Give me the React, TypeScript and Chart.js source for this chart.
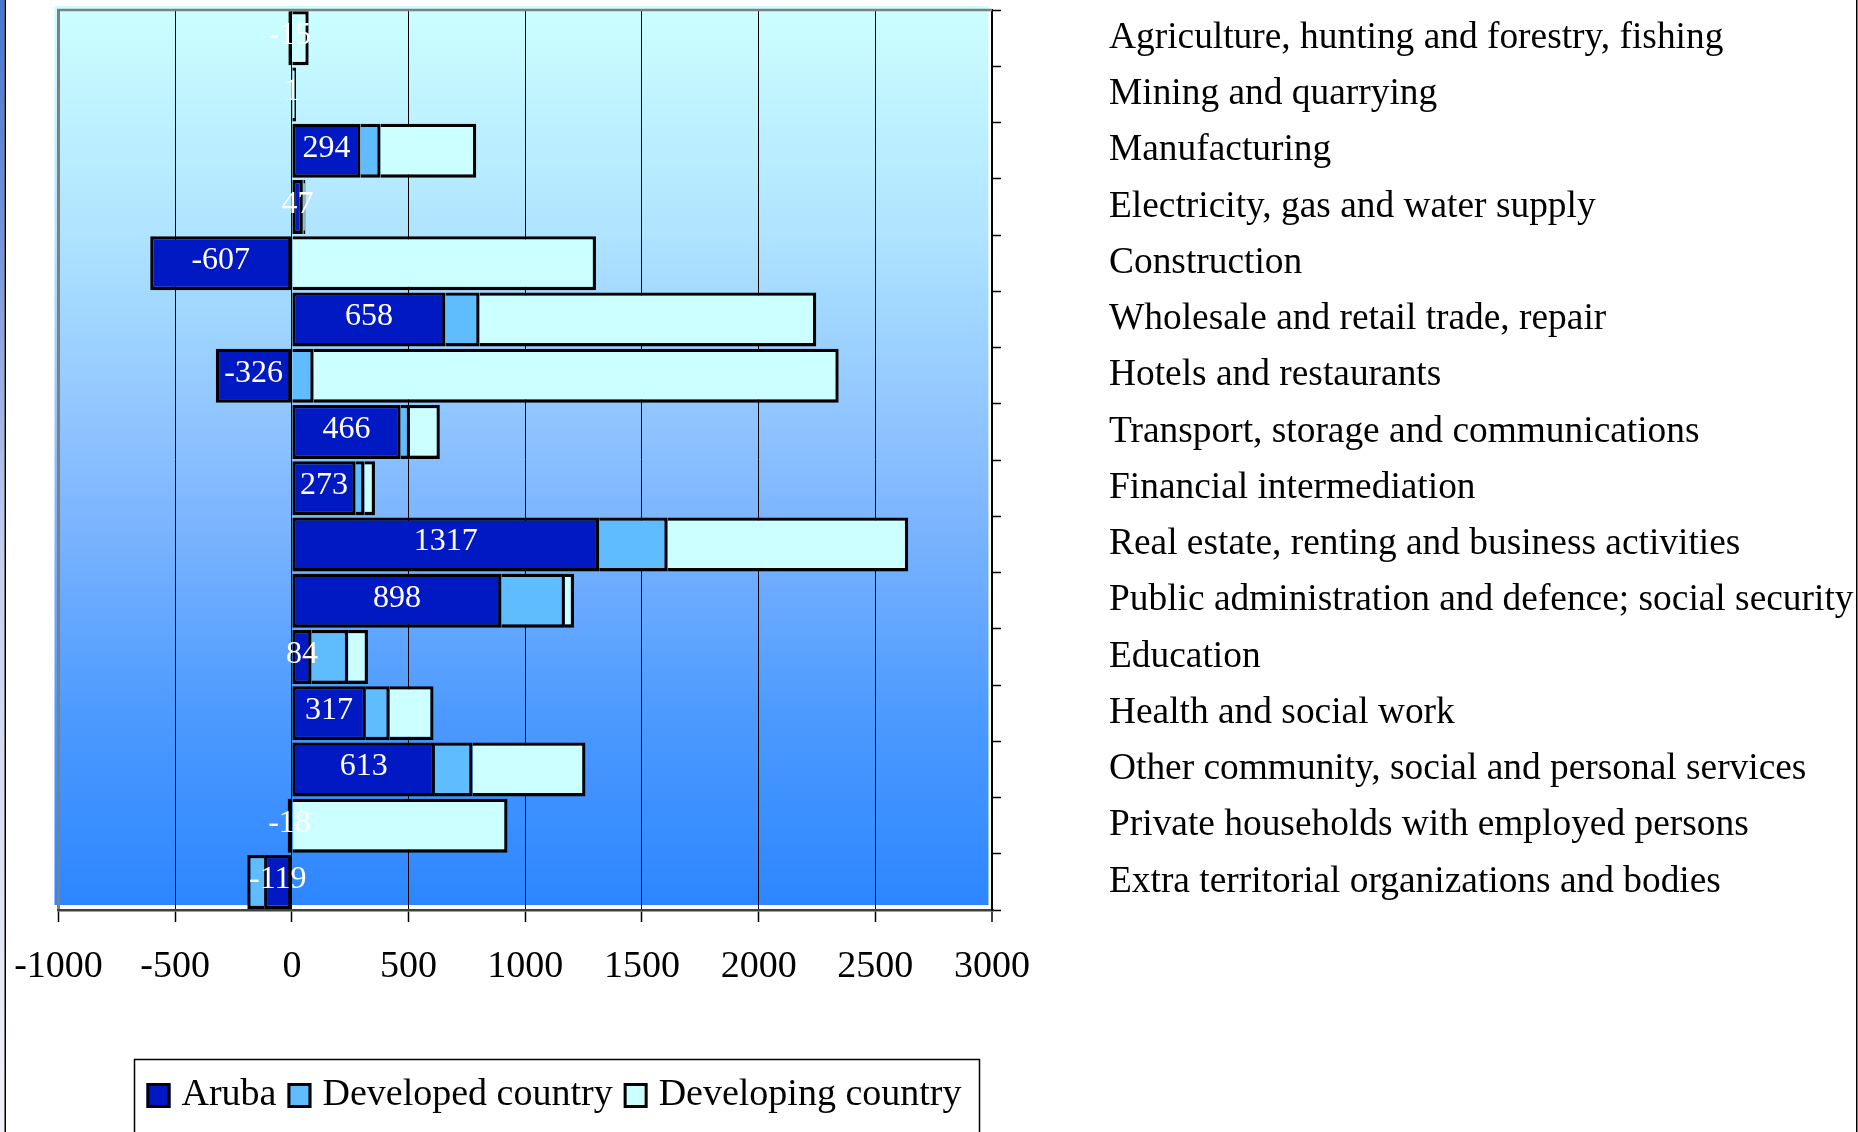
import React, { useEffect, useRef } from 'react';
import { Chart, registerables } from 'chart.js';

Chart.register(...registerables);

const categories = [
  'Agriculture, hunting and forestry, fishing',
  'Mining and quarrying',
  'Manufacturing',
  'Electricity, gas and water supply',
  'Construction',
  'Wholesale and retail trade, repair',
  'Hotels and restaurants',
  'Transport, storage and communications',
  'Financial intermediation',
  'Real estate, renting and business activities',
  'Public administration and defence; social security',
  'Education',
  'Health and social work',
  'Other community, social and personal services',
  'Private households with employed persons',
  'Extra territorial organizations and bodies',
];

const aruba = [-15, 1, 294, 47, -607, 658, -326, 466, 273, 1317, 898, 84, 317, 613, -18, -119];
const developed = [2, 2, 86, 3, 4, 146, 93, 40, 38, 293, 272, 157, 102, 161, 3, -72];
const developing = [70, 15, 410, 8, 1299, 1443, 2250, 128, 45, 1031, 39, 85, 188, 484, 921, 0];

const xTicks = [-1000, -500, 0, 500, 1000, 1500, 2000, 2500, 3000];
const seriesNames = ['Aruba', 'Developed country', 'Developing country'];
const seriesColors = ['#0019C3', '#5FBDFF', '#CCFFFF'];

const FONT = '"Liberation Serif", "Times New Roman", serif';

const backgroundPlugin = {
  id: 'plotBackground',
  beforeDraw(chart: any) {
    const { ctx, chartArea: a, height } = chart;
    ctx.save();
    const strip = ctx.createLinearGradient(0, 0, 0, height);
    strip.addColorStop(0, '#4876D0');
    strip.addColorStop(0.18, '#6E8ED8');
    strip.addColorStop(0.5, '#C8D0F0');
    strip.addColorStop(1, '#F2F2F8');
    ctx.fillStyle = strip;
    ctx.fillRect(0, 0, 4.5, height);
    ctx.fillStyle = '#000';
    ctx.fillRect(4.5, 0, 1.5, height);
    ctx.fillRect(1856, 0, 1.5, height);

    const g = ctx.createLinearGradient(0, a.top - 4, 0, a.bottom - 5);
    g.addColorStop(0, '#CCFFFF');
    g.addColorStop(0.25, '#B0E4FF');
    g.addColorStop(0.57, '#7DB5FF');
    g.addColorStop(0.78, '#4E9BFF');
    g.addColorStop(1, '#2D86FF');
    ctx.fillStyle = g;
    ctx.fillRect(a.left - 4, a.top - 4, a.width + 0.5, a.height - 1);
    ctx.restore();
  },
  beforeDatasetsDraw(chart: any) {
    const { ctx, chartArea: a } = chart;
    ctx.save();
    ctx.strokeStyle = '#808080';
    ctx.lineWidth = 2.5;
    ctx.beginPath();
    ctx.moveTo(a.left - 1.5, a.top);
    ctx.lineTo(a.right, a.top);
    ctx.stroke();
    ctx.restore();
  },
};

const arubaLabelPlugin = {
  id: 'arubaLabels',
  afterDatasetsDraw(chart: any) {
    const meta = chart.getDatasetMeta(0);
    const values = chart.data.datasets[0].data;
    const ctx = chart.ctx;
    ctx.save();
    ctx.font = `32px ${FONT}`;
    ctx.fillStyle = '#FFFFFF';
    ctx.textAlign = 'center';
    ctx.textBaseline = 'alphabetic';
    meta.data.forEach((el: any, i: number) => {
      const { x, y, base } = el.getProps(['x', 'y', 'base'], true);
      ctx.fillText(String(values[i]), (x + base) / 2, y + 6);
    });
    ctx.restore();
  },
};

const boxLegendPlugin = {
  id: 'boxLegend',
  afterDraw(chart: any) {
    const ctx = chart.ctx;
    ctx.save();
    ctx.strokeStyle = '#000';
    ctx.lineWidth = 1.5;
    ctx.strokeRect(134.5, 1059.5, 845, 120);
    ctx.font = `38px ${FONT}`;
    ctx.textBaseline = 'alphabetic';
    ctx.textAlign = 'left';
    let x = 146.5;
    chart.data.datasets.forEach((ds: any) => {
      ctx.fillStyle = ds.backgroundColor;
      ctx.fillRect(x, 1083, 24, 25);
      ctx.lineWidth = 3;
      ctx.strokeStyle = '#000';
      ctx.strokeRect(x + 1.5, 1084.5, 21, 22);
      ctx.fillStyle = '#000';
      ctx.fillText(ds.label, x + 35, 1105);
      x += 35 + ctx.measureText(ds.label).width + 11;
    });
    ctx.restore();
  },
};

export default function App() {
  const canvasRef = useRef<HTMLCanvasElement | null>(null);

  useEffect(() => {
    if (!canvasRef.current) return;
    Chart.defaults.font.family = FONT;
    const seriesData = [aruba, developed, developing];
    const chart = new Chart(canvasRef.current, {
      type: 'bar',
      data: {
        labels: categories,
        datasets: seriesNames.map((name, i) => ({
          label: name,
          data: seriesData[i],
          backgroundColor: seriesColors[i],
          borderColor: '#000000',
          borderWidth: 3.3,
          borderSkipped: i === 0 ? false : 'start',
          barPercentage: 0.96,
          categoryPercentage: 1,
        })),
      },
      options: {
        responsive: false,
        animation: false,
        indexAxis: 'y',
        layout: { padding: { left: 58.5, top: 10, right: 0, bottom: 0 } },
        plugins: {
          legend: { display: false },
          tooltip: { enabled: false },
        },
        scales: {
          x: {
            type: 'linear',
            stacked: true,
            position: 'bottom',
            min: -1000,
            max: 3000,
            afterBuildTicks: (s: any) => {
              s.ticks = xTicks.map((v) => ({ value: v }));
            },
            afterFit: (s: any) => {
              s.height = 222;
              s.paddingLeft = 0;
              s.paddingRight = 0;
            },
            grid: {
              color: (c: any) => (c.tick && c.tick.value === -1000 ? '#808080' : '#000000'),
              lineWidth: (c: any) =>
                c.tick && c.tick.value === -1000 ? 3 : c.tick && c.tick.value === 3000 ? 2 : 1,
              tickLength: 12,
              tickColor: '#000000',
              tickWidth: 1.5,
            },
            border: { display: true, color: '#404040', width: 2.5 },
            ticks: {
              color: '#000000',
              font: { family: FONT, size: 38 },
              padding: 22,
              maxRotation: 0,
              autoSkip: false,
              callback: (v: any) => String(v),
            },
          },
          y: {
            type: 'category',
            stacked: true,
            position: 'right',
            offset: true,
            afterFit: (s: any) => {
              s.width = 866;
              s.paddingTop = 0;
              s.paddingBottom = 0;
            },
            grid: {
              offset: true,
              drawOnChartArea: false,
              tickLength: 9,
              tickColor: '#000000',
              tickWidth: 1.5,
            },
            border: { display: true, color: '#000000', width: 2 },
            ticks: {
              color: '#000000',
              font: { family: FONT, size: 37.4 },
              padding: 108,
              autoSkip: false,
            },
          },
        },
      },
      plugins: [backgroundPlugin, arubaLabelPlugin, boxLegendPlugin],
    } as any);
    return () => chart.destroy();
  }, []);

  return (
    <div style={{ position: 'absolute', left: 0, top: 0, width: 1858, height: 1132, background: '#fff' }}>
      <canvas ref={canvasRef} width={1858} height={1132} style={{ display: 'block' }} />
    </div>
  );
}
